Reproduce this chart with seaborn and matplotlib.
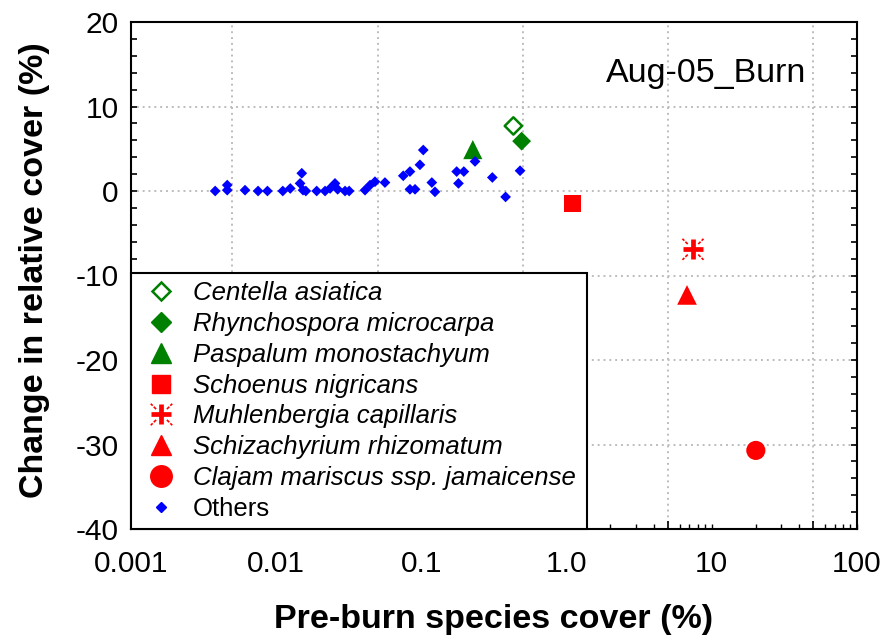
import numpy as np
import pandas as pd
import matplotlib
matplotlib.use("Agg")
import matplotlib.pyplot as plt
import matplotlib.ticker as mticker
from matplotlib.lines import Line2D
from matplotlib.path import Path
from matplotlib.legend_handler import HandlerTuple
import seaborn as sns

# ---------------- data ----------------
species = ["Centella asiatica", "Rhynchospora microcarpa", "Paspalum monostachyum",
           "Schoenus nigricans", "Muhlenbergia capillaris", "Schizachyrium rhizomatum",
           "Clajam mariscus ssp. jamaicense"]
species_x = [0.43, 0.49, 0.226, 1.09, 7.42, 6.75, 20.1]
species_y = [7.7, 5.9, 4.9, -1.5, -6.9, -12.3, -30.7]

others_x = [0.0038, 0.0046, 0.0046, 0.0061, 0.0075, 0.0087, 0.0111, 0.0125, 0.0146,
            0.0150, 0.0153, 0.0160, 0.019, 0.0217, 0.0235, 0.0254, 0.0265, 0.0298,
            0.0318, 0.0409, 0.0443, 0.0479, 0.0561, 0.075, 0.0834, 0.0977, 0.103,
            0.0834, 0.0904, 0.118, 0.124, 0.180, 0.175, 0.196, 0.234, 0.308, 0.380,
            0.478]
others_y = [0.0, 0.7, 0.1, 0.1, 0.0, 0.0, 0.0, 0.3, 0.9,
            2.1, 0.1, 0.0, 0.0, 0.0, 0.3, 0.9, 0.2, 0.0,
            0.0, 0.1, 0.7, 1.1, 1.0, 1.8, 2.3, 3.1, 4.85,
            0.2, 0.2, 1.0, -0.1, 0.9, 2.3, 2.3, 3.5, 1.6, -0.7,
            2.4]

x_tick_labels = ["0.001", "0.01", "0.1", "1.0", "10", "100"]
y_ticks = [-40, -30, -20, -10, 0, 10, 20]
panel_label = "Aug-05_Burn"

# ---------------- style ----------------
sns.set_theme(style="white")
plt.rcParams["font.family"] = ["Liberation Sans", "DejaVu Sans"]
plt.rcParams.update({"text.color": "black", "axes.labelcolor": "black",
                     "xtick.color": "black", "ytick.color": "black",
                     "axes.edgecolor": "black"})

GREEN = "#008000"
RED = "#ff0000"
BLUE = "#0000ff"

fig = plt.figure(figsize=(8.86, 6.4), dpi=100)
ax = fig.add_axes([131 / 886, 1 - 529 / 640, 726 / 886, 507 / 640])
ax.set_xscale("log")

others = pd.DataFrame({"x": others_x, "y": others_y})
sp = pd.DataFrame({"name": species, "x": species_x, "y": species_y})

# diagonal "spark" part of the Muhlenbergia marker
diag_verts = []
diag_codes = []
for sx, sy in [(1, 1), (-1, 1), (-1, -1), (1, -1)]:
    diag_verts += [(0.5 * sx, 0.5 * sy), (0.72 * sx, 0.72 * sy),
                   (0.82 * sx, 0.82 * sy), (1.0 * sx, 1.0 * sy)]
    diag_codes += [Path.MOVETO, Path.LINETO, Path.MOVETO, Path.LINETO]
diag_path = Path(diag_verts, diag_codes)

# Others
sns.scatterplot(data=others, x="x", y="y", marker="D", s=30, color=BLUE,
                edgecolor="none", linewidth=0, ax=ax, legend=False, zorder=3)

def pick(i):
    return sp.iloc[[i]]

# Centella (open diamond)
sns.scatterplot(data=pick(0), x="x", y="y", marker="D", s=78, facecolor="none",
                edgecolor=GREEN, linewidth=1.8, ax=ax, legend=False, zorder=4)
# Rhynchospora
sns.scatterplot(data=pick(1), x="x", y="y", marker="D", s=92, color=GREEN,
                edgecolor="none", linewidth=0, ax=ax, legend=False, zorder=4)
# Paspalum
sns.scatterplot(data=pick(2), x="x", y="y", marker="^", s=190, color=GREEN,
                edgecolor="none", linewidth=0, ax=ax, legend=False, zorder=2)
# Schoenus
sns.scatterplot(data=pick(3), x="x", y="y", marker="s", s=150, color=RED,
                edgecolor="none", linewidth=0, ax=ax, legend=False, zorder=4)
# Muhlenbergia
sns.scatterplot(data=pick(4), x="x", y="y", marker="+", s=210, color=RED,
                linewidth=3.4, ax=ax, legend=False, zorder=4)
sns.scatterplot(data=pick(4), x="x", y="y", marker=diag_path, s=230,
                facecolor="none", edgecolor=RED, linewidth=1.2, ax=ax,
                legend=False, zorder=4)
# Schizachyrium
sns.scatterplot(data=pick(5), x="x", y="y", marker="^", s=200, color=RED,
                edgecolor="none", linewidth=0, ax=ax, legend=False, zorder=4)
# Cladium
sns.scatterplot(data=pick(6), x="x", y="y", marker="o", s=190, color=RED,
                edgecolor="none", linewidth=0, ax=ax, legend=False, zorder=4)

# ---------------- axes ----------------
ax.set_xlim(0.001, 100)
ax.set_ylim(-40, 20)

decades = [1e-3, 1e-2, 1e-1, 1.0, 10.0, 100.0]
grid_x = [5e-3, 5e-2, 5e-1, 5.0, 50.0]
minor_x = []
for d in decades[:-1]:
    for k in [1, 2, 3, 4, 6, 7, 8, 9]:
        minor_x.append(k * d)
minor_x.append(100.0)
lab_map = {round(np.log10(d), 6): t for d, t in zip(decades, x_tick_labels)}

ax.xaxis.set_major_locator(mticker.FixedLocator(grid_x))
ax.xaxis.set_major_formatter(mticker.NullFormatter())
ax.xaxis.set_minor_locator(mticker.FixedLocator(minor_x))
ax.xaxis.set_minor_formatter(mticker.FuncFormatter(
    lambda v, p: lab_map.get(round(np.log10(v), 6), "")))

ax.yaxis.set_major_locator(mticker.FixedLocator(y_ticks))
ax.yaxis.set_minor_locator(mticker.MultipleLocator(2))
ax.set_yticklabels([str(t) for t in y_ticks])

ax.tick_params(axis="x", which="major", direction="in", length=6, width=1.2,
               bottom=True, top=False)
ax.tick_params(axis="x", which="minor", direction="in", length=3.5, width=1.0,
               bottom=True, top=False, labelsize=21.5, pad=15)
ax.tick_params(axis="y", which="both", direction="in", length=4, width=1.2,
               left=True, right=True, labelsize=21.5, pad=9)

ax.grid(True, which="major", axis="both", color="#bdbdbd", linewidth=1.4,
        linestyle=(0, (1, 2)))
ax.set_axisbelow(True)
for s in ax.spines.values():
    s.set_linewidth(1.5)
    s.set_color("black")

ax.set_xlabel("Pre-burn species cover (%)", fontsize=24.5, fontweight="bold")
ax.set_ylabel("Change in relative cover (%)", fontsize=24.5, fontweight="bold")
ax.xaxis.set_label_coords(0.5, -0.148)
ax.yaxis.set_label_coords(-0.112, 0.51)

ax.text(0.792, 0.899, panel_label, transform=ax.transAxes, ha="center",
        va="center", fontsize=24.5)

# ---------------- legend ----------------
h_cent = Line2D([], [], marker="D", linestyle="none", markersize=9.4,
                markerfacecolor="none", markeredgecolor=GREEN, markeredgewidth=1.8)
h_rhyn = Line2D([], [], marker="D", linestyle="none", markersize=10.5, color=GREEN)
h_pasp = Line2D([], [], marker="^", linestyle="none", markersize=15, color=GREEN)
h_scho = Line2D([], [], marker="s", linestyle="none", markersize=13, color=RED)
h_muh1 = Line2D([], [], marker="+", linestyle="none", markersize=15, color=RED,
                markeredgewidth=3.4)
h_muh2 = Line2D([], [], marker=diag_path, linestyle="none", markersize=15.5,
                markerfacecolor="none", markeredgecolor=RED, markeredgewidth=1.2)
h_schi = Line2D([], [], marker="^", linestyle="none", markersize=15, color=RED)
h_clad = Line2D([], [], marker="o", linestyle="none", markersize=15.5, color=RED)
h_oth = Line2D([], [], marker="D", linestyle="none", markersize=5.6, color=BLUE)

handles = [h_cent, h_rhyn, h_pasp, h_scho, (h_muh1, h_muh2), h_schi, h_clad, h_oth]
labels = species + ["Others"]
leg = ax.legend(handles, labels, loc="lower left", bbox_to_anchor=(0, 0, 0.628, 0.5),
                mode="expand", borderaxespad=0, fontsize=18.5, frameon=True,
                fancybox=False, framealpha=1, edgecolor="black",
                borderpad=0.3, handlelength=1.7, handletextpad=0.4,
                labelspacing=0.27,
                handler_map={tuple: HandlerTuple(ndivide=1, pad=0)})
leg.get_frame().set_linewidth(1.5)
for i, t in enumerate(leg.get_texts()):
    if i < len(species):
        t.set_style("italic")
leg.set_zorder(5)

fig.savefig("out.png", dpi=100)
